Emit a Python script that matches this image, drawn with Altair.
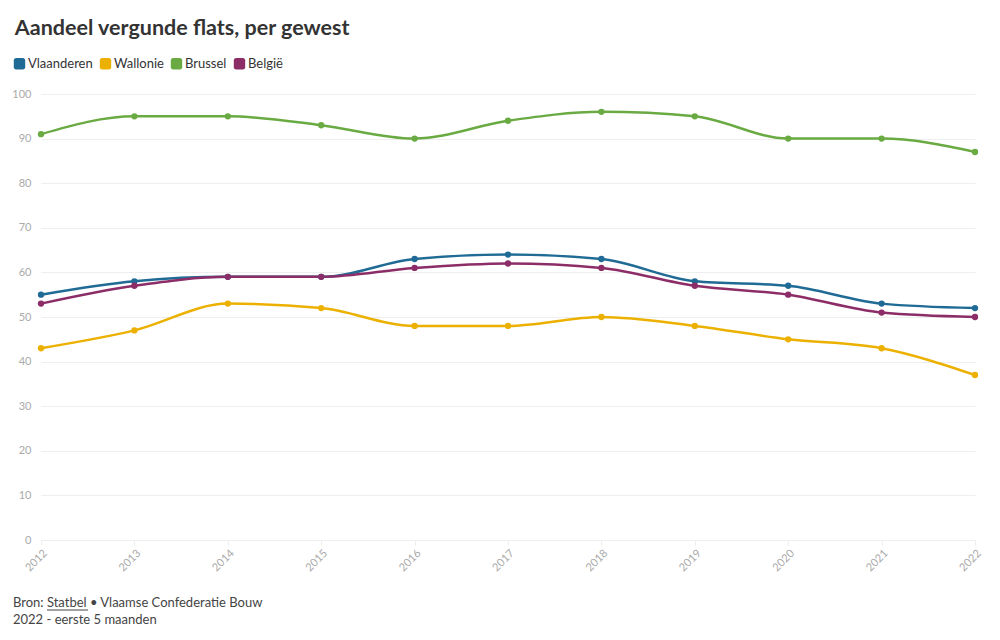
import altair as alt
import pandas as pd

years = list(range(2012, 2023))
series_names = ["Vlaanderen", "Wallonie", "Brussel", "België"]
vlaanderen = [55, 58, 59, 59, 63, 64, 63, 58, 57, 53, 52]
wallonie = [43, 47, 53, 52, 48, 48, 50, 48, 45, 43, 37]
brussel = [91, 95, 95, 93, 90, 94, 96, 95, 90, 90, 87]
belgie = [53, 57, 59, 59, 61, 62, 61, 57, 55, 51, 50]
colors = ["#1f6b95", "#ecb100", "#6aaa42", "#8c2d68"]
y_ticks = [0, 10, 20, 30, 40, 50, 60, 70, 80, 90, 100]

rows = []
for name, vals in zip(series_names, [vlaanderen, wallonie, brussel, belgie]):
    for yr, v in zip(years, vals):
        rows.append({"jaar": yr, "gewest": name, "aandeel": v})
df = pd.DataFrame(rows)

FONT = "Lato"
rounded = "M-0.6,-1 H0.6 A0.4,0.4 0 0 1 1,-0.6 V0.6 A0.4,0.4 0 0 1 0.6,1 H-0.6 A0.4,0.4 0 0 1 -1,0.6 V-0.6 A0.4,0.4 0 0 1 -0.6,-1 Z"

color = alt.Color(
    "gewest:N",
    scale=alt.Scale(domain=series_names, range=colors),
    sort=series_names,
    legend=alt.Legend(
        title=None,
        orient="none",
        legendX=-28,
        legendY=-37,
        direction="horizontal",
        symbolType=rounded,
        symbolSize=130,
        symbolStrokeWidth=0,
        labelFont=FONT,
        labelFontSize=13,
        labelColor="#333333",
        columnPadding=6,
        labelOffset=2,
    ),
)

x = alt.X(
    "jaar:Q",
    scale=alt.Scale(domain=[2012, 2022], nice=False, zero=False),
    axis=alt.Axis(
        title=None,
        values=years,
        format="d",
        labelAngle=-45,
        labelColor="#aaaaaa",
        labelFont=FONT,
        labelFontSize=11,
        grid=False,
        domain=False,
        tickColor="#eeeeee",
        tickSize=5,
        labelPadding=2,
    ),
)
y = alt.Y(
    "aandeel:Q",
    scale=alt.Scale(domain=[0, 100], nice=False),
    axis=alt.Axis(
        title=None,
        values=y_ticks,
        labelColor="#aaaaaa",
        labelFont=FONT,
        labelFontSize=11,
        gridColor="#eeeeee",
        domain=False,
        ticks=False,
        labelPadding=10,
    ),
)

base = alt.Chart(df)
lines = base.mark_line(interpolate="monotone", strokeWidth=2.5).encode(x=x, y=y, color=color)
points = base.mark_circle(size=40, opacity=1).encode(x=x, y=y, color=color)

footer = alt.Chart(pd.DataFrame({"t": ["Bron: Statbel • Vlaamse Confederatie Bouw\n2022 - eerste 5 maanden"]})).mark_text(
    align="left", baseline="top", lineBreak="\n", lineHeight=17, font=FONT, fontSize=13, color="#444444"
).encode(x=alt.value(-28), y=alt.value(503), text="t:N")

underline = alt.Chart(pd.DataFrame({"t": [0]})).mark_rule(color="#444444", strokeWidth=1).encode(
    x=alt.value(6), x2=alt.value(47), y=alt.value(516)
)

chart = alt.layer(lines, points, footer, underline).properties(
    width=934,
    height=446,
    autosize=alt.AutoSizeParams(type="none"),
    padding={"left": 33, "top": 86, "right": 17, "bottom": 92},
    title=alt.TitleParams(
        "Aandeel vergunde flats, per gewest",
        anchor="start",
        font=FONT,
        fontSize=21.5,
        fontWeight="bold",
        color="#333333",
        dx=3,
        offset=18,
    ),
).configure_view(stroke=None)

chart.save("out.html", embed_options={"renderer": "svg", "actions": False})
